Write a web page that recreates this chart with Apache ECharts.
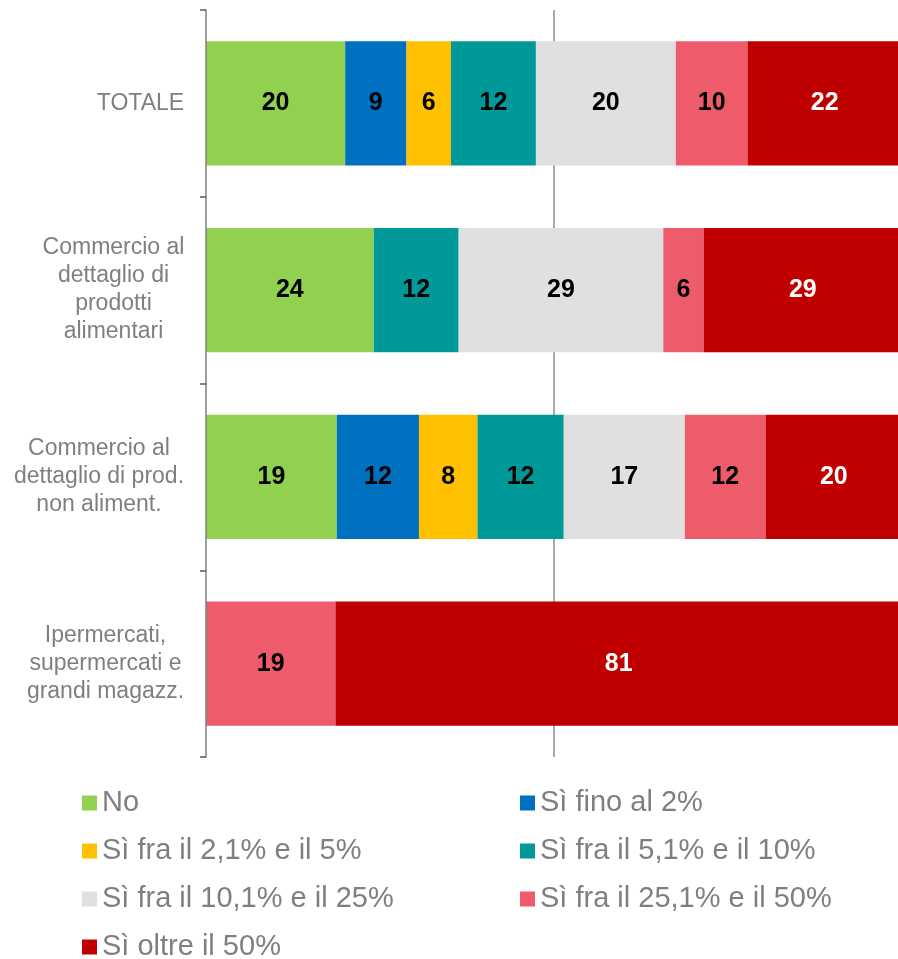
<!DOCTYPE html>
<html>
<head>
<meta charset="utf-8">
<script src="https://cdn.jsdelivr.net/npm/echarts@6/dist/echarts.min.js"></script>
<style>html,body{margin:0;padding:0;background:#fff;}#c{width:898px;height:959px;}</style>
</head>
<body>
<div id="c"></div>
<script>
const categories = [
  'TOTALE',
  'Commercio al\ndettaglio di\nprodotti\nalimentari',
  'Commercio al\ndettaglio di prod.\nnon aliment.',
  'Ipermercati,\nsupermercati e\ngrandi magazz.'
];
const seriesNames = [
  'No',
  'Sì fino al 2%',
  'Sì fra il 2,1% e il 5%',
  'Sì fra il 5,1% e il 10%',
  'Sì fra il 10,1% e il 25%',
  'Sì fra il 25,1% e il 50%',
  'Sì oltre il 50%'
];
const sNo       = [20.0, 24.1, 18.8, null];
const sFino2    = [8.8,  null, 11.8, null];
const s2to5     = [6.4,  null, 8.4,  null];
const s5to10    = [12.2, 12.2, 12.4, null];
const s10to25   = [20.1, 29.4, 17.4, null];
const s25to50   = [10.3, 5.8,  11.6, 18.6];
const sOltre50  = [22.2, 28.5, 19.6, 81.4];
const seriesValues = [sNo, sFino2, s2to5, s5to10, s10to25, s25to50, sOltre50];
const colors = ['#92D050', '#0070C0', '#FFC000', '#009999', '#E0E0E0', '#EE5C6C', '#C00000'];
const labelColors = ['#000', '#000', '#000', '#000', '#000', '#000', '#fff'];

const FONT = '"Liberation Sans", Arial, sans-serif';
const AXIS_FS = 23;

// measure each category block's widest line so lines can be centred inside a right-aligned block
const mctx = document.createElement('canvas').getContext('2d');
mctx.font = AXIS_FS + 'px "Liberation Sans", Arial, sans-serif';
const rich = {};
categories.forEach((c, i) => {
  const w = Math.max.apply(null, c.split('\n').map(l => mctx.measureText(l).width));
  rich['c' + i] = { width: Math.ceil(w) + 1, align: 'center', color: '#7F7F7F', fontFamily: FONT, fontSize: AXIS_FS, lineHeight: 28 };
});

const chart = echarts.init(document.getElementById('c'));
const series = seriesNames.map((n, i) => ({
  name: n,
  type: 'bar',
  stack: 'all',
  barCategoryGap: '33.6%',
  z: 3,
  data: seriesValues[i],
  itemStyle: { color: colors[i] },
  label: {
    show: true,
    position: 'inside',
    color: labelColors[i],
    fontFamily: FONT,
    fontWeight: 'bold',
    fontSize: 25,
    formatter: p => (p.value == null ? '' : String(Math.round(p.value)))
  },
  emphasis: { disabled: true }
}));
series.push({
  type: 'line',
  z: 1,
  data: [],
  silent: true,
  markLine: {
    z: 0,
    silent: true,
    animation: false,
    symbol: ['none', 'none'],
    label: { show: false },
    lineStyle: { color: '#8C8C8C', width: 1.5, type: 'solid' },
    emphasis: { disabled: true },
    data: [{ xAxis: 50 }]
  }
});

const legendText = { color: '#7F7F7F', fontFamily: FONT, fontSize: 29, lineHeight: 30 };
const legendBase = {
  orient: 'vertical', itemWidth: 15, itemHeight: 15, itemGap: 18, padding: 0,
  icon: 'rect', selectedMode: false, textStyle: legendText, height: 200
};
chart.setOption({
  animation: false,
  grid: { left: 206, top: 10, right: -4, bottom: 202, containLabel: false, outerBoundsMode: 'none' },
  xAxis: {
    type: 'value', min: 0, max: 100, interval: 50,
    axisLine: { show: false }, axisTick: { show: false }, axisLabel: { show: false },
    splitLine: { show: false }
  },
  yAxis: {
    type: 'category', inverse: true, data: categories, z: 4,
    axisLine: { show: true, lineStyle: { color: '#808080', width: 1.5 } },
    axisTick: { show: true, length: 6, inside: false, lineStyle: { color: '#595959', width: 1.5 } },
    axisLabel: {
      align: 'right', margin: 21,
      formatter: (v, idx) => v.split('\n').map(l => '{c' + idx + '|' + l + '}').join('\n'),
      rich: rich
    },
    splitLine: { show: false }
  },
  legend: [
    Object.assign({}, legendBase, { left: 82, top: 788, data: [seriesNames[0], seriesNames[2], seriesNames[4]] }),
    Object.assign({}, legendBase, { left: 82, top: 788 + 3 * 48, height: 50, data: [seriesNames[6]] }),
    Object.assign({}, legendBase, { left: 520, top: 788, data: [seriesNames[1], seriesNames[3], seriesNames[5]] })
  ],
  series: series
});
</script>
</body>
</html>
